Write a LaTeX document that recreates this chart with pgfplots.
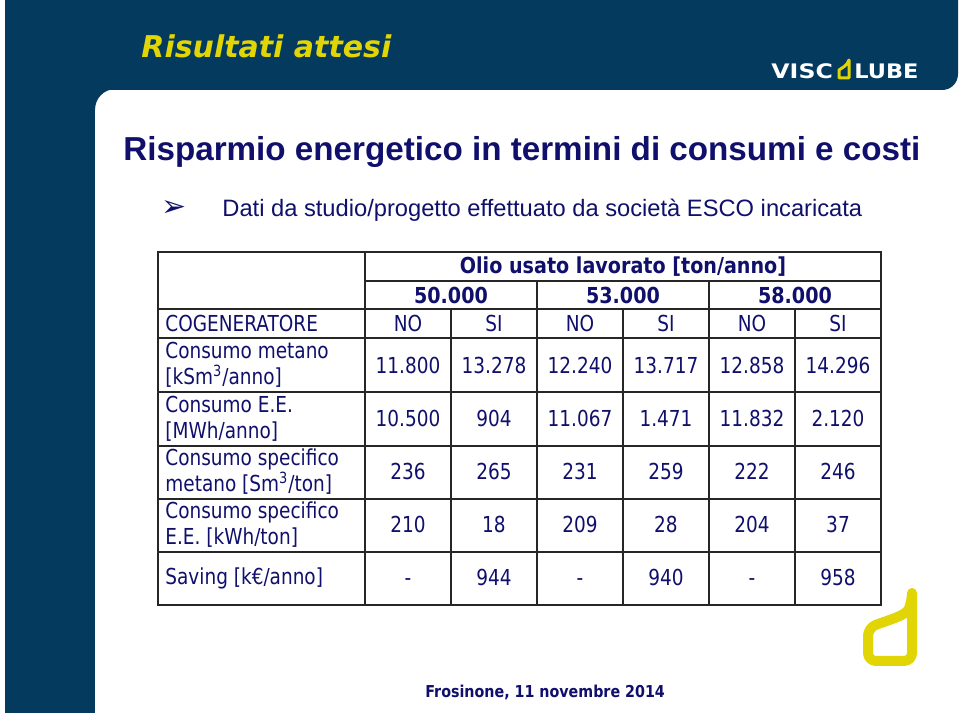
\documentclass[border=0pt]{standalone}
\usepackage{fontspec}
\usepackage{pgfplots}
\usepackage{pgfplotstable}
\pgfplotsset{compat=1.18}
\setmainfont{Liberation Sans}
\newfontfamily\tfont[FakeStretch=0.84]{DejaVu Sans}
\newfontfamily\tbfont[FakeStretch=0.87]{DejaVu Sans Bold}
\newfontfamily\ttlfont{DejaVu Sans Bold Oblique}
\newfontfamily\symfont{DejaVu Sans}
\newfontfamily\logofont{DejaVu Sans Bold}
\definecolor{SlideBlue}{HTML}{033A5E}
\definecolor{SlideYellow}{HTML}{E2D505}
\definecolor{SlideNavy}{HTML}{10106C}
\definecolor{RuleInk}{HTML}{262626}
\tikzset{
  lbl/.style={inner sep=0pt, align=left, text=SlideNavy,
    font=\tfont\fontsize{11pt}{13pt}\selectfont},
  hdr/.style={inner sep=0pt, text=SlideNavy,
    font=\tbfont\fontsize{11pt}{13pt}\selectfont},
  tbl/.style={draw=RuleInk, line width=1pt},
}

% table cells: column centre, row centre (px, y down), text
\pgfplotstableread{
x   y   v
408 366 11.800
494 366 13.278
580 366 12.240
666 366 13.717
752 366 12.858
838 366 14.296
408 419 10.500
494 419 904
580 419 11.067
666 419 1.471
752 419 11.832
838 419 2.120
408 472 236
494 472 265
580 472 231
666 472 259
752 472 222
838 472 246
408 525 210
494 525 18
580 525 209
666 525 28
752 525 204
838 525 37
408 578 -
494 578 944
580 578 -
666 578 940
752 578 -
838 578 958
}\cells

\begin{document}
\begin{tikzpicture}
\begin{axis}[
  width=480pt, height=358pt, scale only axis,
  xmin=0, xmax=960, ymin=0, ymax=716, y dir=reverse,
  hide axis, clip=false,
  every node near coord/.append style={anchor=base, yshift=-4pt, inner sep=0pt,
    font=\tfont\fontsize{11pt}{13pt}\selectfont, text=SlideNavy},
]
% slide background and frame
\fill[white] (0,0) rectangle (960,716);
\fill[SlideBlue] (5,0) -- (958,0) -- (958,74) .. controls (958,83) and (951,90) .. (942,90) -- (5,90) -- cycle;
\fill[SlideBlue] (5,90) rectangle (95,713);
\fill[SlideBlue] (95,89) -- (116,89) .. controls (104,89) and (95,98) .. (95,110) -- cycle;

\node[anchor=base west, inner sep=0pt, text=SlideYellow, font=\ttlfont\fontsize{15pt}{18pt}\selectfont] at (141,58) {Risultati attesi};

% logo
\node[anchor=base west, inner sep=0pt, text=white, xscale=1.18, font=\logofont\fontsize{10pt}{12pt}\selectfont] at (771,79) {VISC};
\node[anchor=base west, inner sep=0pt, text=white, xscale=1.12, font=\logofont\fontsize{10pt}{12pt}\selectfont] at (854,79) {LUBE};
\draw[SlideYellow, line width=1.5pt, line join=round] (849,60) -- (849,78) -- (839,78) -- (839,70) .. controls (843,67) and (847,66) .. cycle;

\node[anchor=base west, inner sep=0pt, text=SlideNavy, font=\bfseries\fontsize{16.6pt}{20pt}\selectfont] at (123,161) {Risparmio energetico in termini di consumi e costi};
\node[anchor=center, inner sep=0pt, text=SlideNavy, font=\symfont\fontsize{15pt}{16pt}\selectfont] at (174,209) {➢};
\node[anchor=base west, inner sep=0pt, text=SlideNavy, font=\fontsize{11.85pt}{14pt}\selectfont] at (222,217) {Dati da studio/progetto effettuato da società ESCO incaricata};

% table grid
\draw[tbl] (158,252) rectangle (881,605);
\draw[tbl] (365,281) -- (881,281);
\draw[tbl] (158,309) -- (881,309);
\draw[tbl] (158,338) -- (881,338);
\draw[tbl] (158,392) -- (881,392);
\draw[tbl] (158,446) -- (881,446);
\draw[tbl] (158,499) -- (881,499);
\draw[tbl] (158,552) -- (881,552);
\draw[tbl] (365,252) -- (365,605);
\draw[tbl] (537,281) -- (537,605);
\draw[tbl] (709,281) -- (709,605);
\draw[tbl] (451,309) -- (451,605);
\draw[tbl] (623,309) -- (623,605);
\draw[tbl] (795,309) -- (795,605);

% headers
\node[hdr] at (623,267) {Olio usato lavorato [ton/anno]};
\node[hdr] at (451,295) {50.000};
\node[hdr] at (623,295) {53.000};
\node[hdr] at (795,295) {58.000};
\node[lbl, anchor=west] at (165,323.5) {COGENERATORE};
\node[lbl] at (408,323.5) {NO};
\node[lbl] at (494,323.5) {SI};
\node[lbl] at (580,323.5) {NO};
\node[lbl] at (666,323.5) {SI};
\node[lbl] at (752,323.5) {NO};
\node[lbl] at (838,323.5) {SI};

% row labels
\node[lbl, anchor=west] at (165,365) {Consumo metano\\{[}kSm\textsuperscript{3}/anno]};
\node[lbl, anchor=west] at (165,419) {Consumo E.E.\\{[}MWh/anno]};
\node[lbl, anchor=west] at (165,472) {Consumo specifico\\metano [Sm\textsuperscript{3}/ton]};
\node[lbl, anchor=west] at (165,525) {Consumo specifico\\E.E. [kWh/ton]};
\node[lbl, anchor=west] at (165,578) {Saving [k€/anno]};

\addplot[draw=none, mark=none, nodes near coords, point meta=explicit symbolic]
  table[x=x, y=y, meta=v] {\cells};

% corner mark and footer
\draw[SlideYellow, line width=5pt, line join=round, rounded corners=4pt] (912,601) -- (912,661) -- (868,661) -- (868,628) .. controls (888,620) and (906,616) .. cycle;
\node[anchor=base west, inner sep=0pt, text=SlideNavy, font=\tbfont\fontsize{8.2pt}{10pt}\selectfont] at (425,698) {Frosinone, 11 novembre 2014};
\end{axis}
\end{tikzpicture}
\end{document}
